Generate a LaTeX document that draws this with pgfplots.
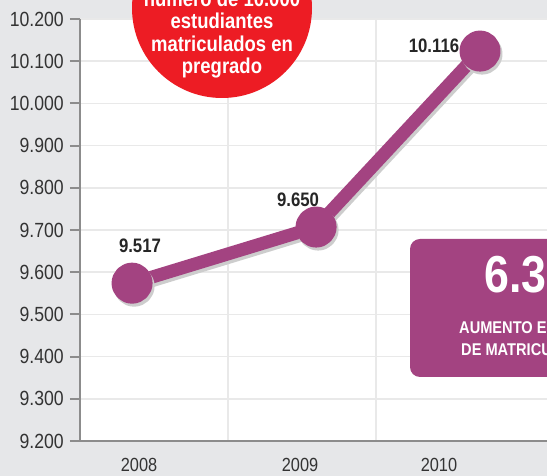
\documentclass[border=0pt]{standalone}
\usepackage{pgfplots}
\pgfplotsset{compat=1.18}
\usepackage{fontspec}
\setmainfont{Liberation Sans}
\newfontfamily\cond{Liberation Sans}[FakeStretch=0.86]
\definecolor{bg}{HTML}{E6E7E9}
\definecolor{purp}{HTML}{A34381}
\definecolor{redc}{HTML}{ED1C24}
\definecolor{gridc}{HTML}{E9E9E9}
\definecolor{axc}{HTML}{8C8C8C}
\definecolor{shad}{HTML}{CDCDCD}
\definecolor{tickc}{HTML}{333333}
\begin{document}
\begin{tikzpicture}[x=1pt,y=1pt]
\useasboundingbox (0,0) rectangle (547,476);
\clip (0,0) rectangle (547,476);
\fill[bg] (0,0) rectangle (547,476);
\fill[white] (80,35) rectangle (547,457);
\begin{axis}[
  at={(80pt,35pt)}, anchor=south west,
  scale only axis, width=467pt, height=422pt,
  xmin=-0.283, xmax=2.255, ymin=9200, ymax=10200,
  clip=false,
  axis x line=bottom, axis y line=left,
  axis line style={-, draw=axc, line width=2.2pt},
  xtick={0.038,0.913,1.668}, xticklabels={2008,2009,2010},
  minor xtick={0.522,1.326}, xminorgrids=true,
  minor grid style={draw=gridc, line width=1.5pt},
  ytick={9200,9300,...,10200}, ymajorgrids=true,
  major grid style={draw=gridc, line width=1.5pt},
  x tick style={draw=none},
  y tick style={draw=axc, line width=2pt},
  tick align=outside, major tick length=10pt,
  scaled y ticks=false,
  yticklabel style={font=\cond\fontsize{20.5}{20.5}\selectfont, color=tickc, anchor=east, inner sep=0pt, xshift=-6pt,
    /pgf/number format/.cd, fixed, precision=0, 1000 sep={.}, min exponent for 1000 sep=0, assume math mode=true},
  xticklabel style={font=\cond\fontsize{19}{19}\selectfont, color=tickc, anchor=base, inner sep=0pt, yshift=-21pt},
]
\addplot[draw=shad, line width=13pt, line join=round, mark=*, mark size=14pt,
  mark options={fill=shad, draw=none}, xshift=2pt, yshift=-3pt]
  coordinates {(0,9574) (1,9707) (1.891,10124)};
\addplot[draw=purp, line width=13pt, line join=round, mark=*, mark size=14pt,
  mark options={fill=purp, draw=none}]
  coordinates {(0,9574) (1,9707) (1.891,10124)};
\node[font=\cond\bfseries\fontsize{19.5}{19.5}\selectfont, color=black!85] at (axis cs:0.043,9662) {9.517};
\node[font=\cond\bfseries\fontsize{19.5}{19.5}\selectfont, color=black!85] at (axis cs:0.902,9771) {9.650};
\node[font=\cond\bfseries\fontsize{19.5}{19.5}\selectfont, color=black!85] at (axis cs:1.641,10136) {10.116};
\end{axis}
\draw[axc, line width=2.2pt] (70,35) -- (82,35);
% red circle
\fill[redc] (222,468) circle (90);
\begin{scope}[every node/.style={font=\cond\bfseries\fontsize{21.5}{21.5}\selectfont, text=white, anchor=base, inner sep=0pt}]
\node at (222,491.5) {Superó el};
\node at (222,469.5) {número de 10.000};
\node at (222,447) {estudiantes};
\node at (222,424.5) {matriculados en};
\node at (222,402) {pregrado};
\end{scope}
% purple box
\fill[purp, rounded corners=10pt] (410,99) rectangle (640,237);
\node[font=\cond\bfseries\fontsize{52}{52}\selectfont, text=white, anchor=base west, inner sep=0pt] at (484,183) {6.3\%};
\node[font=\cond\bfseries\fontsize{17}{17}\selectfont, text=white, anchor=base west, inner sep=0pt] at (459,142) {AUMENTO EN LA TASA};
\node[font=\cond\bfseries\fontsize{17}{17}\selectfont, text=white, anchor=base west, inner sep=0pt] at (461,120) {DE MATRICULADOS};
\end{tikzpicture}
\end{document}
